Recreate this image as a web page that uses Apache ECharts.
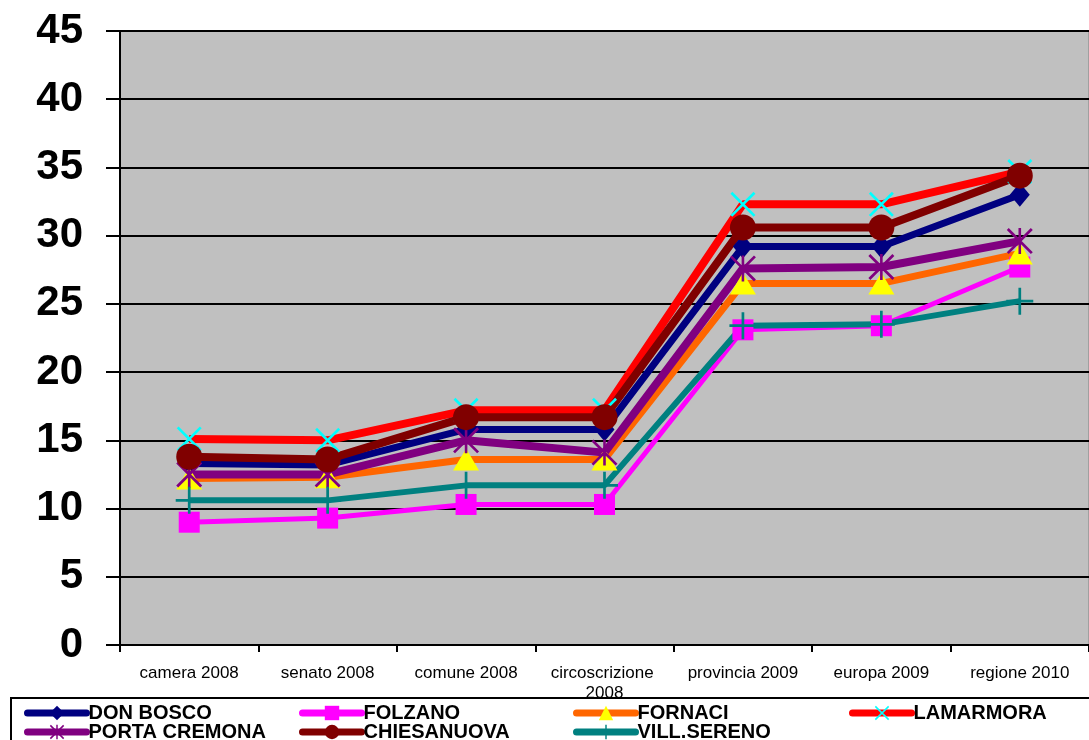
<!DOCTYPE html>
<html>
<head>
<meta charset="utf-8">
<script src="https://cdn.jsdelivr.net/npm/echarts@6/dist/echarts.min.js"></script>
<style>
html,body{margin:0;padding:0;background:#fff;}
#chart{width:1089px;height:740px;}
</style>
</head>
<body>
<div id="chart"></div>
<script>
var categories = ['camera 2008','senato 2008','comune 2008','circoscrizione 2008','provincia 2009','europa 2009','regione 2010'];
var yTicks = [0,5,10,15,20,25,30,35,40,45];

var donBosco     = [13.3, 13.2, 15.8, 15.8, 29.2, 29.2, 33.0];
var folzano      = [9.0, 9.3, 10.3, 10.3, 23.1, 23.4, 27.7];
var fornaci      = [12.2, 12.3, 13.6, 13.6, 26.5, 26.5, 28.7];
var lamarmora    = [15.1, 15.0, 17.2, 17.2, 32.3, 32.3, 34.7];
var portaCremona = [12.5, 12.5, 15.0, 14.1, 27.6, 27.7, 29.6];
var chiesanuova  = [13.8, 13.6, 16.7, 16.7, 30.6, 30.6, 34.4];
var villSereno   = [10.6, 10.6, 11.7, 11.7, 23.4, 23.5, 25.2];

var X_PATH = 'path://M0,1.5L1.5,0L20,18.5L18.5,20ZM18.5,0L20,1.5L1.5,20L0,18.5Z';
var AST_PATH = 'path://M0,1.5L1.5,0L20,18.5L18.5,20ZM18.5,0L20,1.5L1.5,20L0,18.5ZM9,0L11,0L11,20L9,20Z';
var PLUS_PATH = 'path://M9,0L11,0L11,20L9,20ZM0,9L20,9L20,11L0,11Z';

function mk(name, data, lineColor, lineWidth, symbol, symColor, symSize) {
  return {
    name: name, type: 'line', data: data,
    symbol: symbol, symbolSize: symSize, showSymbol: true,
    lineStyle: { color: lineColor, width: lineWidth },
    itemStyle: { color: symColor, borderWidth: 0 },
    color: lineColor,
    emphasis: { disabled: true }
  };
}

var series = [
  mk('DON BOSCO', donBosco, '#000080', 7, 'diamond', '#000080', [20, 24]),
  mk('FOLZANO', folzano, '#FF00FF', 5, 'rect', '#FF00FF', 21),
  mk('FORNACI', fornaci, '#FF6600', 7, 'triangle', '#FFFF00', [26, 22]),
  mk('LAMARMORA', lamarmora, '#FF0000', 8, X_PATH, '#00FFFF', 25),
  mk('PORTA CREMONA', portaCremona, '#800080', 8, AST_PATH, '#800080', 26),
  mk('CHIESANUOVA', chiesanuova, '#800000', 8, 'circle', '#800000', 26),
  mk('VILL.SERENO', villSereno, '#008080', 6, PLUS_PATH, '#008080', 27)
];

var legendPos = [
  ['DON BOSCO', 24, 0], ['FOLZANO', 299, 0], ['FORNACI', 573, 0], ['LAMARMORA', 849, 0],
  ['PORTA CREMONA', 24, 1], ['CHIESANUOVA', 299, 1], ['VILL.SERENO', 573, 1]
];
var legends = legendPos.map(function (p) {
  return {
    data: [p[0]], left: p[1], top: p[2] === 0 ? 703 : 722,
    padding: 0, itemWidth: 59, itemHeight: 18, itemGap: 0,
    selectedMode: false,
    lineStyle: { width: 7, cap: 'round' },
    textStyle: { fontFamily: 'Liberation Sans, Arial', fontWeight: 'bold', fontSize: 20, color: '#000', lineHeight: 19, padding: [0,0,0,-3] }
  };
});

var chart = echarts.init(document.getElementById('chart'), null, { renderer: 'canvas' });
chart.setOption({
  animation: false,
  backgroundColor: '#ffffff',
  textStyle: { fontFamily: 'Liberation Sans, Arial' },
  graphic: [{
    type: 'rect', left: 10, top: 697, z: -1,
    shape: { width: 1085, height: 60 },
    style: { fill: '#fff', stroke: '#000', lineWidth: 2 }
  }],
  grid: {
    left: 120, top: 31, right: 0, bottom: 95,
    show: true, backgroundColor: '#C0C0C0', borderColor: '#808080', borderWidth: 1
  },
  legend: legends,
  xAxis: {
    type: 'category', data: categories, boundaryGap: true,
    axisLine: { lineStyle: { color: '#000', width: 2 } },
    axisTick: { show: true, inside: false, length: 7, lineStyle: { color: '#000', width: 2 } },
    axisLabel: { fontSize: 17, color: '#000', margin: 18, lineHeight: 20, width: 125, overflow: 'break', interval: 0, fontFamily: 'Liberation Sans, Arial' },
    splitLine: { show: false }
  },
  yAxis: {
    type: 'value', min: yTicks[0], max: yTicks[yTicks.length - 1], interval: 5,
    axisLine: { show: true, lineStyle: { color: '#000', width: 2 } },
    axisTick: { show: true, inside: false, length: 14, lineStyle: { color: '#000', width: 2 } },
    axisLabel: { fontSize: 42, fontWeight: 'bold', color: '#000', margin: 37, fontFamily: 'Liberation Sans, Arial' },
    splitLine: { show: true, lineStyle: { color: '#000', width: 2 } }
  },
  series: series
});
</script>
</body>
</html>
